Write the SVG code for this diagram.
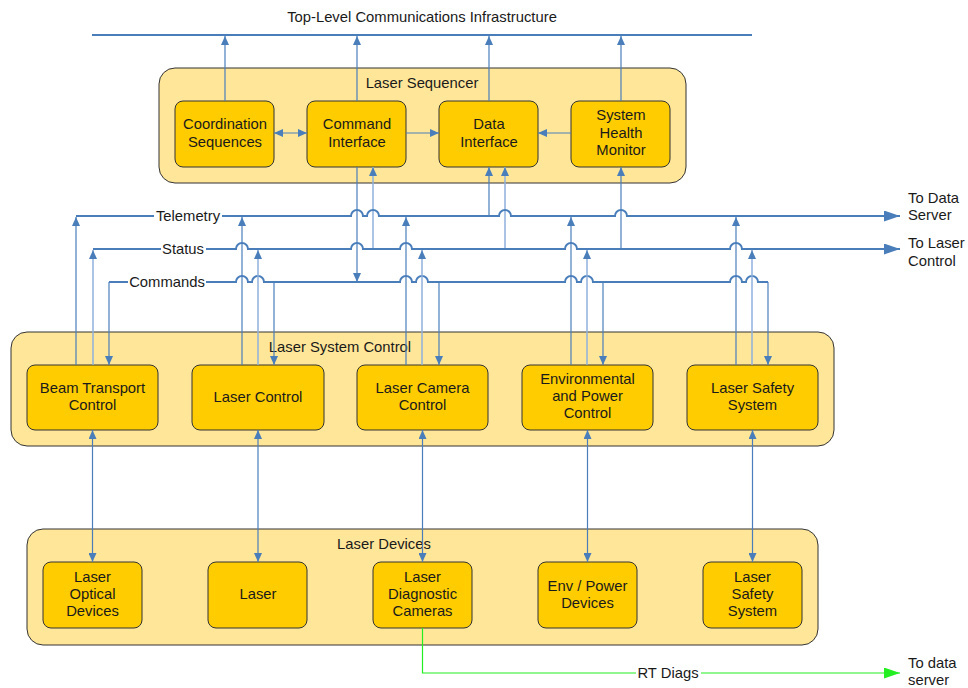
<svg xmlns="http://www.w3.org/2000/svg" width="968" height="688" viewBox="0 0 968 688">
<style>
text{font-family:"Liberation Sans",Arial,sans-serif;font-size:14.8px;fill:#1a1a1a;text-anchor:middle}
.lbl{text-anchor:start}
.cont{fill:#ffe699;stroke:#333;stroke-width:1}
.box{fill:#ffcc00;stroke:#333;stroke-width:1}
.bus{fill:none;stroke:#4a7ebb;stroke-width:2}
.v{fill:none;stroke:#4a7ebb;stroke-width:1.2}
.vl{fill:none;stroke:#8fb0dd;stroke-width:1.5}
.g{fill:none;stroke:#22ee22;stroke-width:1.2}
</style>
<defs>
<marker id="a" markerUnits="userSpaceOnUse" markerWidth="10" markerHeight="8" refX="9" refY="4" orient="auto-start-reverse"><path d="M0,0 L9,4 L0,8 z" fill="#4a7ebb"/></marker>
<marker id="ab" markerUnits="userSpaceOnUse" markerWidth="16" markerHeight="11" refX="16" refY="5.5" orient="auto"><path d="M0,0 L16,5.5 L0,11 z" fill="#4a7ebb"/></marker>
<marker id="ag" markerUnits="userSpaceOnUse" markerWidth="16" markerHeight="11" refX="16" refY="5.5" orient="auto"><path d="M0,0 L16,5.5 L0,11 z" fill="#22ee22"/></marker>
</defs>

<g id="title"><text x="422" y="22">Top-Level Communications Infrastructure</text></g>

<g id="laser-sequencer">
<rect class="cont" x="159" y="68" width="527" height="115" rx="16"/>
<text x="422" y="88">Laser Sequencer</text>
</g>
<g id="coordination-sequences"><rect class="box" x="175" y="101" width="99" height="66" rx="8"/><text x="225" y="129">Coordination</text><text x="225" y="147">Sequences</text></g>
<g id="command-interface"><rect class="box" x="307" y="101" width="99" height="66" rx="8"/><text x="357" y="129">Command</text><text x="357" y="147">Interface</text></g>
<g id="data-interface"><rect class="box" x="439" y="101" width="99" height="66" rx="8"/><text x="489" y="129">Data</text><text x="489" y="147">Interface</text></g>
<g id="system-health-monitor"><rect class="box" x="571" y="101" width="99" height="66" rx="8"/><text x="621" y="120">System</text><text x="621" y="138">Health</text><text x="621" y="155">Monitor</text></g>

<g id="laser-system-control">
<rect class="cont" x="11" y="332" width="823" height="114" rx="16"/>
<text x="340" y="352">Laser System Control</text>
</g>
<g id="beam-transport-control"><rect class="box" x="27" y="365" width="131" height="65" rx="8"/><text x="92.5" y="393">Beam Transport</text><text x="92.5" y="410">Control</text></g>
<g id="laser-control"><rect class="box" x="192" y="365" width="132" height="65" rx="8"/><text x="258" y="402">Laser Control</text></g>
<g id="laser-camera-control"><rect class="box" x="357" y="365" width="131" height="65" rx="8"/><text x="422.5" y="393">Laser Camera</text><text x="422.5" y="410">Control</text></g>
<g id="environmental-power-control"><rect class="box" x="522" y="365" width="131" height="65" rx="8"/><text x="587.5" y="384">Environmental</text><text x="587.5" y="401">and Power</text><text x="587.5" y="418">Control</text></g>
<g id="laser-safety-system-control"><rect class="box" x="687" y="365" width="131" height="65" rx="8"/><text x="752.5" y="393">Laser Safety</text><text x="752.5" y="410">System</text></g>

<g id="laser-devices">
<rect class="cont" x="27" y="529" width="791" height="116" rx="16"/>
<text x="384" y="549">Laser Devices</text>
</g>
<g id="laser-optical-devices"><rect class="box" x="43" y="562" width="99" height="66" rx="8"/><text x="92.5" y="582">Laser</text><text x="92.5" y="599">Optical</text><text x="92.5" y="616">Devices</text></g>
<g id="laser"><rect class="box" x="208" y="562" width="99" height="66" rx="8"/><text x="258" y="599">Laser</text></g>
<g id="laser-diagnostic-cameras"><rect class="box" x="373" y="562" width="99" height="66" rx="8"/><text x="422.5" y="582">Laser</text><text x="422.5" y="599">Diagnostic</text><text x="422.5" y="616">Cameras</text></g>
<g id="env-power-devices"><rect class="box" x="538" y="562" width="99" height="66" rx="8"/><text x="587.5" y="591">Env / Power</text><text x="587.5" y="608">Devices</text></g>
<g id="laser-safety-system-device"><rect class="box" x="703" y="562" width="99" height="66" rx="8"/><text x="752.5" y="582">Laser</text><text x="752.5" y="599">Safety</text><text x="752.5" y="616">System</text></g>

<g id="connectors">
<path class="bus" d="M92,35 H752"/>
<path class="v" marker-end="url(#a)" d="M225,101 V36"/>
<path class="v" marker-end="url(#a)" d="M357,101 V36"/>
<path class="v" marker-end="url(#a)" d="M489,101 V36"/>
<path class="v" marker-end="url(#a)" d="M621,101 V36"/>
<path class="v" marker-start="url(#a)" marker-end="url(#a)" d="M274,133 H307"/>
<path class="v" marker-end="url(#a)" d="M406,133 H439"/>
<path class="v" marker-end="url(#a)" d="M571,133 H538"/>
<path class="v" marker-end="url(#a)" d="M357,167 V282"/>
<path class="vl" marker-end="url(#a)" d="M373,249 V167"/>
<path class="v" marker-end="url(#a)" d="M489,216 V167"/>
<path class="vl" marker-end="url(#a)" d="M505,249 V167"/>
<path class="v" marker-end="url(#a)" d="M621,249 V167"/>
<path class="bus" marker-end="url(#ab)" d="M76,216 H351 A6,6 0 0 1 363,216 H367 A6,6 0 0 1 379,216 H499 A6,6 0 0 1 511,216 H615 A6,6 0 0 1 627,216 H900"/>
<path class="bus" marker-end="url(#ab)" d="M93,249 H236 A6,6 0 0 1 248,249 H351 A6,6 0 0 1 363,249 H400 A6,6 0 0 1 412,249 H565 A6,6 0 0 1 577,249 H730 A6,6 0 0 1 742,249 H900"/>
<path class="bus" d="M109,282 H236 A6,6 0 0 1 248,282 H252 A6,6 0 0 1 264,282 H400 A6,6 0 0 1 412,282 H416 A6,6 0 0 1 428,282 H565 A6,6 0 0 1 577,282 H581 A6,6 0 0 1 593,282 H730 A6,6 0 0 1 742,282 H746 A6,6 0 0 1 758,282 H768"/>
<path class="v" marker-end="url(#a)" d="M76,365 V217"/>
<path class="v" marker-end="url(#a)" d="M242,365 V217"/>
<path class="v" marker-end="url(#a)" d="M406,365 V217"/>
<path class="v" marker-end="url(#a)" d="M571,365 V217"/>
<path class="v" marker-end="url(#a)" d="M736,365 V217"/>
<path class="vl" marker-end="url(#a)" d="M93,365 V250"/>
<path class="vl" marker-end="url(#a)" d="M258,365 V250"/>
<path class="vl" marker-end="url(#a)" d="M422,365 V250"/>
<path class="vl" marker-end="url(#a)" d="M587,365 V250"/>
<path class="vl" marker-end="url(#a)" d="M752,365 V250"/>
<path class="v" marker-end="url(#a)" d="M109,282 V365"/>
<path class="v" marker-end="url(#a)" d="M274,282 V365"/>
<path class="v" marker-end="url(#a)" d="M439,282 V365"/>
<path class="v" marker-end="url(#a)" d="M603,282 V365"/>
<path class="v" marker-end="url(#a)" d="M768,282 V365"/>
<path class="v" marker-start="url(#a)" marker-end="url(#a)" d="M92.5,430 V562"/>
<path class="v" marker-start="url(#a)" marker-end="url(#a)" d="M258,430 V562"/>
<path class="v" marker-start="url(#a)" marker-end="url(#a)" d="M422.5,430 V562"/>
<path class="v" marker-start="url(#a)" marker-end="url(#a)" d="M587.5,430 V562"/>
<path class="v" marker-start="url(#a)" marker-end="url(#a)" d="M752.5,430 V562"/>
<path class="g" marker-end="url(#ag)" d="M422.5,628 V673 H900"/>
<rect x="154" y="208" width="68" height="16" fill="#fff"/><text x="188" y="221">Telemetry</text>
<rect x="161" y="241" width="45" height="16" fill="#fff"/><text x="183" y="254">Status</text>
<rect x="128" y="274" width="78" height="16" fill="#fff"/><text x="167" y="287">Commands</text>
<rect x="636" y="665" width="65" height="16" fill="#fff"/><text x="668" y="678">RT Diags</text>
<text class="lbl" x="908" y="203">To Data</text><text class="lbl" x="908" y="220">Server</text>
<text class="lbl" x="908" y="248">To Laser</text><text class="lbl" x="908" y="266">Control</text>
<text class="lbl" x="908" y="668">To data</text><text class="lbl" x="908" y="685">server</text>
</g>
</svg>
